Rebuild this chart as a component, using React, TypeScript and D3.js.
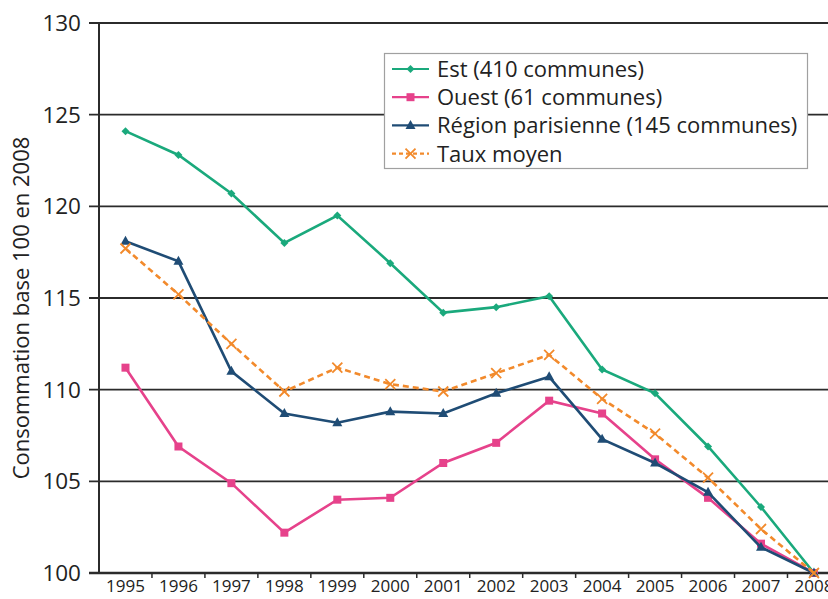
import { useEffect, useRef } from 'react';
import * as d3 from 'd3';

const years = ['1995', '1996', '1997', '1998', '1999', '2000', '2001', '2002', '2003', '2004', '2005', '2006', '2007', '2008'];
const est = [124.1, 122.8, 120.7, 118.0, 119.5, 116.9, 114.2, 114.5, 115.1, 111.1, 109.8, 106.9, 103.6, 100];
const ouest = [111.2, 106.9, 104.9, 102.2, 104.0, 104.1, 106.0, 107.1, 109.4, 108.7, 106.2, 104.1, 101.6, 100];
const region = [118.1, 117.0, 111.0, 108.7, 108.2, 108.8, 108.7, 109.8, 110.7, 107.3, 106.0, 104.4, 101.4, 100];
const taux = [117.7, 115.2, 112.5, 109.9, 111.2, 110.3, 109.9, 110.9, 111.9, 109.5, 107.6, 105.2, 102.4, 100];
const yTicks = [100, 105, 110, 115, 120, 125, 130];

const series = [
  { name: 'Est (410 communes)', values: est, color: '#1aa97c', marker: 'diamond', dash: '' },
  { name: 'Ouest (61 communes)', values: ouest, color: '#e6428b', marker: 'square', dash: '' },
  { name: 'Région parisienne (145 communes)', values: region, color: '#1f4c75', marker: 'triangle', dash: '' },
  { name: 'Taux moyen', values: taux, color: '#f28a2c', marker: 'cross', dash: '6,4' },
];

const FONT = "'Open Sans', 'Noto Sans', sans-serif";

export default function App() {
  const svgRef = useRef<SVGSVGElement>(null);

  useEffect(() => {
    document.body.style.margin = '0';
    if (!svgRef.current) return;
    const svg = d3.select(svgRef.current);
    svg.selectAll('*').remove();

    const axisX = 99;
    const step = 52.96;
    const x = d3.scaleBand<string>().domain(years).range([axisX, axisX + step * years.length]);
    const cx = (d: string) => (x(d) ?? 0) + x.bandwidth() / 2;
    const y = d3.scaleLinear().domain([100, 130]).range([573, 23]);

    // Gridlines
    svg
      .append('g')
      .selectAll('line')
      .data(yTicks)
      .enter()
      .append('line')
      .attr('x1', axisX - 10)
      .attr('x2', 828)
      .attr('y1', (d) => y(d))
      .attr('y2', (d) => y(d))
      .attr('stroke', '#2b2b2b')
      .attr('stroke-width', (d) => (d === 100 ? 2.5 : 1.8));

    // Y axis line
    svg
      .append('line')
      .attr('x1', axisX)
      .attr('x2', axisX)
      .attr('y1', y(130))
      .attr('y2', y(100))
      .attr('stroke', '#2b2b2b')
      .attr('stroke-width', 2);

    // Y tick labels
    svg
      .append('g')
      .selectAll('text')
      .data(yTicks)
      .enter()
      .append('text')
      .attr('x', 81)
      .attr('y', (d) => y(d) + 8)
      .attr('text-anchor', 'end')
      .attr('font-family', FONT)
      .attr('font-size', 22.5)
      .attr('fill', '#222')
      .text((d) => d);

    // X ticks (between categories)
    svg
      .append('g')
      .selectAll('line')
      .data(years.slice(1))
      .enter()
      .append('line')
      .attr('x1', (d) => x(d) ?? 0)
      .attr('x2', (d) => x(d) ?? 0)
      .attr('y1', y(100))
      .attr('y2', y(100) + 5)
      .attr('stroke', '#2b2b2b')
      .attr('stroke-width', 1.5);

    // X labels
    svg
      .append('g')
      .selectAll('text')
      .data(years)
      .enter()
      .append('text')
      .attr('x', cx)
      .attr('y', 592)
      .attr('text-anchor', 'middle')
      .attr('font-family', FONT)
      .attr('font-size', 17)
      .attr('fill', '#222')
      .text((d) => d);

    // Y title
    svg
      .append('text')
      .attr('transform', `translate(29, 308) rotate(-90)`)
      .attr('text-anchor', 'middle')
      .attr('font-family', FONT)
      .attr('font-size', 22)
      .attr('fill', '#222')
      .text('Consommation base 100 en 2008');

    const drawMarker = (g: d3.Selection<SVGGElement, unknown, null, undefined>, type: string, px: number, py: number, color: string) => {
      if (type === 'diamond') {
        g.append('path').attr('d', `M${px},${py - 4}L${px + 4},${py}L${px},${py + 4}L${px - 4},${py}Z`).attr('fill', color);
      } else if (type === 'square') {
        g.append('rect').attr('x', px - 4).attr('y', py - 4).attr('width', 8).attr('height', 8).attr('fill', color);
      } else if (type === 'triangle') {
        g.append('path').attr('d', `M${px},${py - 5.5}L${px + 5},${py + 3.5}L${px - 5},${py + 3.5}Z`).attr('fill', color);
      } else {
        g.append('path')
          .attr('d', `M${px - 5},${py - 5}L${px + 5},${py + 5}M${px - 5},${py + 5}L${px + 5},${py - 5}`)
          .attr('stroke', color)
          .attr('stroke-width', 1.8)
          .attr('fill', 'none');
      }
    };

    const line = d3
      .line<number>()
      .x((_, i) => cx(years[i]))
      .y((d) => y(d));

    series.forEach((s) => {
      const g = svg.append('g');
      g.append('path')
        .attr('d', line(s.values) ?? '')
        .attr('fill', 'none')
        .attr('stroke', s.color)
        .attr('stroke-width', 2.6)
        .attr('stroke-dasharray', s.dash || null);
      s.values.forEach((v, i) => drawMarker(g, s.marker, cx(years[i]), y(v), s.color));
    });

    // Legend
    const lg = svg.append('g');
    lg.append('rect')
      .attr('x', 384.5)
      .attr('y', 53.5)
      .attr('width', 423)
      .attr('height', 115)
      .attr('fill', 'white')
      .attr('stroke', '#a0a0a0')
      .attr('stroke-width', 1.2);
    series.forEach((s, i) => {
      const ry = 69 + i * 28.2;
      const item = lg.append('g');
      item
        .append('line')
        .attr('x1', 392)
        .attr('x2', 429)
        .attr('y1', ry)
        .attr('y2', ry)
        .attr('stroke', s.color)
        .attr('stroke-width', 2.2)
        .attr('stroke-dasharray', s.dash ? '4,3' : null);
      drawMarker(item as any, s.marker, 410.5, ry, s.color);
      item
        .append('text')
        .attr('x', 437)
        .attr('y', ry + 8)
        .attr('font-family', FONT)
        .attr('font-size', 22)
        .attr('fill', '#222')
        .text(s.name);
    });
  }, []);

  return <svg ref={svgRef} width={828} height={599} style={{ display: 'block', background: 'white' }} />;
}
